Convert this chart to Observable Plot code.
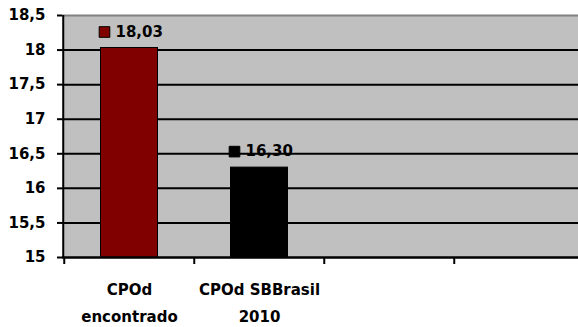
<!DOCTYPE html>
<html>
<head>
<meta charset="utf-8">
<script src="https://cdn.jsdelivr.net/npm/d3@7"></script>
<script src="https://cdn.jsdelivr.net/npm/@observablehq/plot@0.6"></script>
<style>
  html, body { margin: 0; padding: 0; background: #fff; overflow: hidden; }
</style>
</head>
<body>
<div id="chart"></div>
<script>
// Categories, tick labels and values of the chart
const categories = ["CPOd encontrado", "CPOd SBBrasil 2010"];
const tickLabels = ["CPOd\nencontrado", "CPOd SBBrasil\n2010"];
const values = [18.03, 16.30];
const valueLabels = ["18,03", "16,30"];
const barColors = ["#800000", "#000000"];
// The category axis has four slots; the last two stay empty
const xSlots = [...categories, "slot3", "slot4"];
const yDomain = [15, 18.5];
const yTicks = [15, 15.5, 16, 16.5, 17, 17.5, 18, 18.5];

const rows = categories.map((c, i) => ({
  cat: c, tick: tickLabels[i], value: values[i], label: valueLabels[i], color: barColors[i]
}));

const band = (585 - 63) / xSlots.length;

const chart = Plot.plot({
  width: 578,
  height: 327,
  marginLeft: 62,
  marginRight: 0,
  marginTop: 15,
  marginBottom: 70,
  style: {
    fontFamily: "DejaVu Sans",
    fontWeight: "bold",
    fontSize: "15px",
    color: "#000",
    background: "#fff"
  },
  x: { domain: xSlots, range: [63, 585], padding: 0, axis: null },
  y: { domain: yDomain, axis: null },
  color: { type: "identity" },
  marks: [
    Plot.frame({ fill: "#c0c0c0", stroke: null }),
    Plot.gridY(yTicks.filter(t => t < yDomain[1]), { stroke: "#000", strokeOpacity: 1, strokeWidth: 2 }),
    Plot.ruleY([yDomain[1]], { stroke: "#808080", strokeWidth: 2 }),
    Plot.barY(rows, {
      x: "cat", y1: yDomain[0], y2: "value", fill: "color",
      stroke: "#000", strokeWidth: 1, insetLeft: 36.5, insetRight: 36.5
    }),
    // axis lines
    Plot.ruleY([yDomain[0]], { stroke: "#000", strokeWidth: 2 }),
    Plot.ruleX([xSlots[0]], { dx: -band / 2 - 1, y1: yDomain[0], y2: yDomain[1], stroke: "#000", strokeWidth: 2 }),
    Plot.axisY({
      ticks: yTicks,
      label: null,
      tickFormat: d => String(d).replace(".", ","),
      tickSize: 5, tickPadding: 12, strokeWidth: 2, fontSize: 15
    }),
    // category boundary ticks
    Plot.axisX({ ticks: xSlots, label: null, tickSize: 7, dx: -band / 2, tickFormat: () => "", strokeWidth: 2 }),
    Plot.text(rows, { x: "cat", y: yDomain[0], text: "tick", dy: 42, lineHeight: 1.8, fontSize: 15 }),
    // value labels with their legend keys
    Plot.dot(rows, { x: "cat", y: "value", symbol: "square", r: 6, fill: "color", stroke: "#000", strokeWidth: 1, dx: -25, dy: -16 }),
    Plot.text(rows, { x: "cat", y: "value", text: "label", textAnchor: "start", dx: -14, dy: -16, fontSize: 15 })
  ]
});

document.getElementById("chart").appendChild(chart);
</script>
</body>
</html>
